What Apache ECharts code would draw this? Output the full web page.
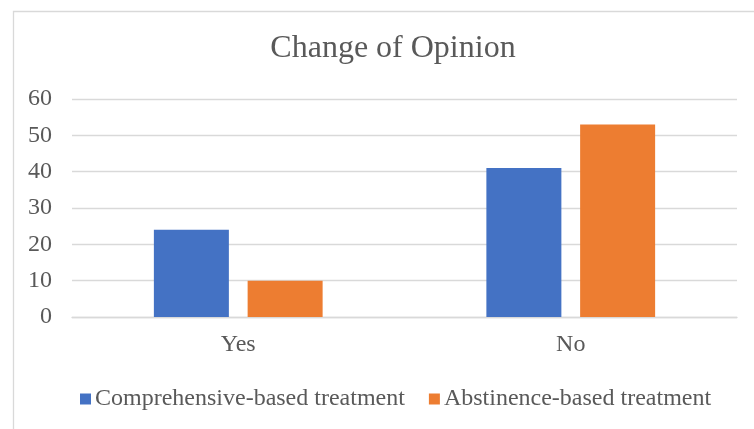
<!DOCTYPE html>
<html>
<head>
<meta charset="utf-8">
<script src="https://cdn.jsdelivr.net/npm/echarts@6/dist/echarts.min.js"></script>
<style>
  html, body { margin: 0; padding: 0; background: #fff; }
  #chart { width: 754px; height: 429px; }
</style>
</head>
<body>
<div id="chart"></div>
<script>
// Survey answers by treatment approach
const categories = ['Yes', 'No'];
const comprehensive = [24, 41];
const abstinence = [10, 53];
const seriesNames = ['Comprehensive-based treatment', 'Abstinence-based treatment'];
const chartTitle = 'Change of Opinion';

const serif = '"Liberation Serif", "Times New Roman", serif';
const textColor = '#595959';

const chart = echarts.init(document.getElementById('chart'));
chart.setOption({
  backgroundColor: '#ffffff',
  animation: false,
  graphic: [{
    type: 'rect',
    left: 11, top: 9,
    shape: { width: 800, height: 500 },
    style: { fill: 'none', stroke: '#d9d9d9', lineWidth: 1.3 },
    silent: true
  }],
  title: {
    text: chartTitle,
    left: 388, top: 28,
    textAlign: 'center',
    textStyle: { fontFamily: serif, fontSize: 32, fontWeight: 'normal', color: textColor }
  },
  legend: {
    data: seriesNames,
    left: 75, top: 382,
    itemWidth: 11, itemHeight: 11, itemGap: 24,
    icon: 'rect',
    textStyle: { fontFamily: serif, fontSize: 24, color: textColor, padding: [0, 0, 0, -1] }
  },
  grid: { left: 72, right: 17, top: 99, bottom: 112, containLabel: false },
  xAxis: {
    type: 'category',
    data: categories,
    axisLine: { show: true, lineStyle: { color: '#d9d9d9', width: 1.3 } },
    axisTick: { show: false },
    axisLabel: { fontFamily: serif, fontSize: 24, color: textColor, margin: 16 }
  },
  yAxis: {
    type: 'value',
    min: 0, max: 60, interval: 10,
    axisLine: { show: false },
    axisTick: { show: false },
    splitLine: { lineStyle: { color: '#d9d9d9', width: 1.3 } },
    axisLabel: { fontFamily: serif, fontSize: 24, color: textColor, margin: 20 }
  },
  series: [
    { name: seriesNames[0], type: 'bar', data: comprehensive, barWidth: 75, barGap: '25%',
      itemStyle: { color: '#4472C4' } },
    { name: seriesNames[1], type: 'bar', data: abstinence, barWidth: 75, barGap: '25%',
      itemStyle: { color: '#ED7D31' } }
  ]
});
</script>
</body>
</html>
